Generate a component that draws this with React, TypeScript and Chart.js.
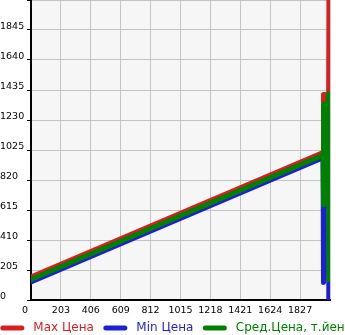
import React, { useEffect, useRef } from 'react';
import { Chart, registerables } from 'chart.js';

Chart.register(...registerables);

// Tick values
const xTickValues = [0, 203, 406, 609, 812, 1015, 1218, 1421, 1624, 1827, 2030];
const yTickValues = [0, 205, 410, 615, 820, 1025, 1230, 1435, 1640, 1845, 2050];

// Series (x = year, y = price)
const maxYears = [0, 1983, 1986, 2021, 2024];
const maxPrices = [158, 1007, 1405, 1405, 2400];

const minYears = [0, 1983, 1986, 2019, 2022];
const minPrices = [124, 973, 120, 1300, 0];

const avgYears = [0, 1983, 1985, 1988, 2019, 2022];
const avgPrices = [141, 990, 1340, 650, 1410, 140];

const seriesLabels = ['Max Цена', 'Min Цена', 'Сред.Цена, т.йен'];
const seriesColors = ['#d81e1e', '#1e1ed8', '#008000'];

const FONT = 'DejaVu Sans';

const toPoints = (xs: number[], ys: number[]) => xs.map((x, i) => ({ x, y: ys[i] }));

const bgPlugin = {
  id: 'plotBg',
  beforeDraw(chart: any) {
    const { ctx, chartArea } = chart;
    if (!chartArea) return;
    ctx.save();
    ctx.fillStyle = '#f6f6f6';
    ctx.fillRect(chartArea.left, chartArea.top, chartArea.right - chartArea.left, chartArea.bottom - chartArea.top);
    ctx.restore();
  },
};

const legendPlugin = {
  id: 'customLegend',
  afterDraw(chart: any) {
    const { ctx, width } = chart;
    ctx.save();
    ctx.font = `12px "${FONT}"`;
    ctx.textBaseline = 'middle';
    ctx.textAlign = 'left';
    const lineLen = 24;
    const textGap = 9;
    const itemGap = 9.5;
    const widths = seriesLabels.map((t) => ctx.measureText(t).width);
    let total = 0;
    widths.forEach((w, i) => {
      total += lineLen + textGap + w;
      if (i < widths.length - 1) total += itemGap;
    });
    let x = (width - total) / 2;
    const y = 328;
    seriesLabels.forEach((t, i) => {
      ctx.strokeStyle = seriesColors[i];
      ctx.lineWidth = 5;
      ctx.lineCap = 'round';
      ctx.beginPath();
      ctx.moveTo(x + 2.5, y);
      ctx.lineTo(x + lineLen - 2.5, y);
      ctx.stroke();
      ctx.fillStyle = seriesColors[i];
      ctx.fillText(t, x + lineLen + textGap, y);
      x += lineLen + textGap + widths[i] + itemGap;
    });
    ctx.restore();
  },
};

export default function App() {
  const ref = useRef<HTMLCanvasElement | null>(null);

  useEffect(() => {
    document.body.style.margin = '0';
    if (!ref.current) return;
    const mk = (i: number, data: any[], order: number) => ({
      label: seriesLabels[i],
      data,
      borderColor: seriesColors[i],
      backgroundColor: seriesColors[i],
      borderWidth: 5,
      borderCapStyle: 'round' as const,
      borderJoinStyle: 'round' as const,
      pointRadius: 0,
      tension: 0,
      fill: false,
      order,
    });
    const chart = new Chart(ref.current, {
      type: 'line',
      data: {
        datasets: [
          mk(0, toPoints(maxYears, maxPrices), 1),
          mk(1, toPoints(minYears, minPrices), 2),
          mk(2, toPoints(avgYears, avgPrices), 0),
        ],
      },
      options: {
        animation: false,
        responsive: false,
        maintainAspectRatio: false,
        layout: { padding: { left: 0, right: 15, top: 0, bottom: 20 } },
        plugins: { legend: { display: false }, tooltip: { enabled: false } },
        scales: {
          x: {
            type: 'linear',
            min: 0,
            max: 2030,
            afterBuildTicks: (s: any) => {
              s.ticks = xTickValues.map((v) => ({ value: v }));
            },
            afterFit: (s: any) => {
              s.height = 15;
              s.paddingLeft = 0;
              s.paddingRight = 0;
            },
            ticks: {
              autoSkip: false,
              maxRotation: 0,
              minRotation: 0,
              padding: 5,
              color: '#000',
              font: { family: FONT, size: 9.5 },
              callback: (v: any) => (v === 0 ? '0    ' : v === 2030 ? '' : String(v)),
            },
            grid: { color: '#c4c4c4', lineWidth: 1, drawTicks: false },
            border: { color: '#000', width: 2 },
          },
          y: {
            type: 'linear',
            min: 0,
            max: 2050,
            afterBuildTicks: (s: any) => {
              s.ticks = yTickValues.map((v) => ({ value: v }));
            },
            afterFit: (s: any) => {
              s.width = 31;
              s.paddingTop = 0;
              s.paddingBottom = 0;
            },
            ticks: {
              autoSkip: false,
              crossAlign: 'far',
              labelOffset: -3,
              padding: 3,
              color: '#000',
              font: { family: FONT, size: 9.5 },
              callback: (v: any) => (v === 2050 ? '' : String(v)),
            },
            grid: { color: '#c4c4c4', lineWidth: 1, tickLength: 4, tickColor: '#000' },
            border: { color: '#000', width: 2 },
          },
        },
      },
      plugins: [bgPlugin, legendPlugin],
    });
    return () => chart.destroy();
  }, []);

  return (
    <div style={{ width: 345, height: 335 }}>
      <canvas ref={ref} width={345} height={335} style={{ display: 'block', width: 345, height: 335 }} />
    </div>
  );
}
